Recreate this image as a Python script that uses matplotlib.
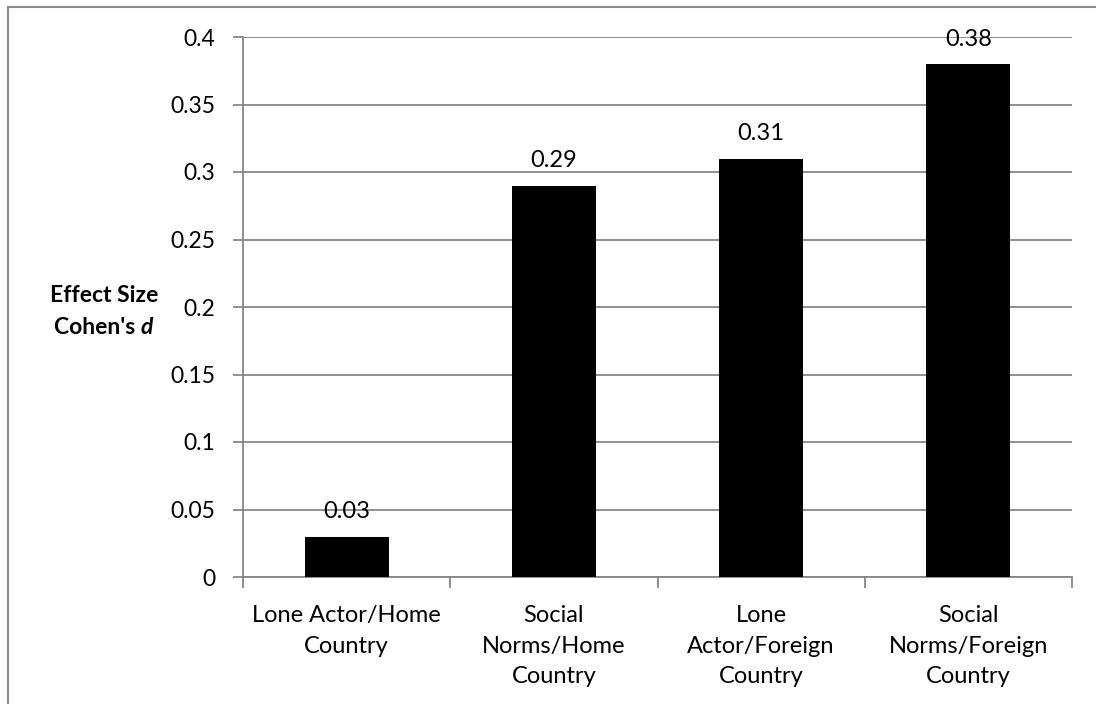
import matplotlib.pyplot as plt
from matplotlib.patches import Rectangle

plt.rcParams['font.family'] = ['Lato', 'DejaVu Sans']

categories = ['Lone Actor/Home\nCountry', 'Social\nNorms/Home\nCountry',
              'Lone\nActor/Foreign\nCountry', 'Social\nNorms/Foreign\nCountry']
effect_sizes = [0.03, 0.29, 0.31, 0.38]
y_ticks = [0, 0.05, 0.1, 0.15, 0.2, 0.25, 0.3, 0.35, 0.4]
y_tick_labels = ['0', '0.05', '0.1', '0.15', '0.2', '0.25', '0.3', '0.35', '0.4']

W, H = 1096, 704
grey = '#868686'
fs = 17

fig = plt.figure(figsize=(W / 100, H / 100), dpi=100)
# outer chart border (only left/top visible in the crop)
fig.patches.append(Rectangle((8 / W, -0.1), 1.2, (H - 7) / H + 0.1,
                             transform=fig.transFigure, fill=False,
                             edgecolor='#8c8c8c', linewidth=1.5))

ax = fig.add_axes([243 / W, (H - 577) / H, 829 / W, 540 / H])
x = range(len(categories))
bars = ax.bar(x, effect_sizes, width=0.405, color='black', zorder=3)

for b, v in zip(bars, effect_sizes):
    ax.annotate(f'{v:.2f}', (b.get_x() + b.get_width() / 2, v),
                xytext=(0, 13), textcoords='offset points',
                ha='center', va='baseline', fontsize=fs, zorder=4)

ax.set_xlim(-0.5, len(categories) - 0.5)
ax.set_ylim(0, 0.4)
ax.set_yticks(y_ticks)
ax.set_yticklabels(y_tick_labels, fontsize=16.5)
ax.yaxis.grid(True, color=grey, linewidth=1.3, zorder=0)
ax.tick_params(axis='y', length=7, width=1.3, color=grey, pad=13)

# category labels centered, ticks on category boundaries
ax.set_xticks(list(x))
ax.set_xticklabels(categories, fontsize=fs, linespacing=1.58)
ax.tick_params(axis='x', which='major', length=0, pad=20)
ax.set_xticks([i - 0.5 for i in range(len(categories) + 1)], minor=True)
ax.tick_params(axis='x', which='minor', length=8, width=1.3, color=grey)

for s in ['top', 'right']:
    ax.spines[s].set_visible(False)
for s in ['left', 'bottom']:
    ax.spines[s].set_color(grey)
    ax.spines[s].set_linewidth(1.3)

# y label: horizontal, bold, with italic d
fig.text(104 / W, 1 - 296 / H, 'Effect Size', fontsize=16.5, fontweight='bold',
         ha='center', va='center')
fig.text(141 / W, 1 - 328 / H, "Cohen's ", fontsize=16.5, fontweight='bold',
         ha='right', va='center')
fig.text(141 / W, 1 - 328 / H, 'd', fontsize=16.5, fontweight='bold',
         fontstyle='italic', ha='left', va='center')

fig.savefig('out.png', dpi=100)
